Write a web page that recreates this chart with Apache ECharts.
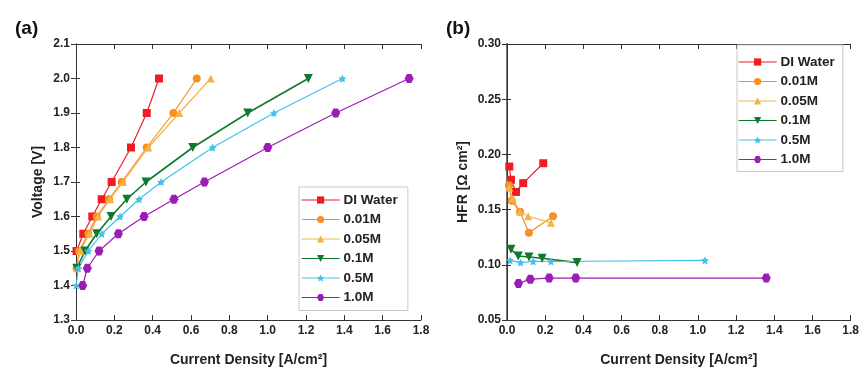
<!DOCTYPE html>
<html><head><meta charset="utf-8">
<script src="https://cdn.jsdelivr.net/npm/echarts@6/dist/echarts.min.js"></script>
<style>html,body{margin:0;padding:0;background:#fff}#c{width:862px;height:372px}</style>
</head><body><div id="c"></div>
<script>
// ---- Data ----
const seriesNames = ['DI Water','0.01M','0.05M','0.1M','0.5M','1.0M'];
const xTicks = ['0.0','0.2','0.4','0.6','0.8','1.0','1.2','1.4','1.6','1.8'];
const vTicks = ['1.3','1.4','1.5','1.6','1.7','1.8','1.9','2.0','2.1'];
const hfrTicks = ['0.05','0.10','0.15','0.20','0.25','0.30'];

// (a) polarisation curves: current density [A/cm2] and voltage [V]
const diWaterJ = [0.003,0.038,0.085,0.134,0.186,0.287,0.369,0.433];
const diWaterV = [1.50,1.55,1.60,1.65,1.70,1.80,1.90,2.00];
const m001J = [0.003,0.016,0.064,0.108,0.172,0.238,0.369,0.508,0.630];
const m001V = [1.45,1.50,1.55,1.60,1.65,1.70,1.80,1.90,2.00];
const m005J = [0.004,0.022,0.070,0.115,0.178,0.245,0.377,0.539,0.703];
const m005V = [1.45,1.50,1.55,1.60,1.65,1.70,1.80,1.90,2.00];
const m01J = [0.004,0.047,0.108,0.183,0.265,0.365,0.609,0.896,1.212];
const m01V = [1.45,1.50,1.55,1.60,1.65,1.70,1.80,1.90,2.00];
const m05J = [0.001,0.012,0.064,0.134,0.230,0.329,0.444,0.713,1.033,1.390];
const m05V = [1.40,1.45,1.50,1.55,1.60,1.65,1.70,1.80,1.90,2.00];
const m10J = [0.035,0.059,0.120,0.221,0.355,0.511,0.670,1.000,1.355,1.738];
const m10V = [1.40,1.45,1.50,1.55,1.60,1.65,1.70,1.80,1.90,2.00];

// (b) HFR vs current density
const diWaterHJ = [0.012,0.021,0.047,0.085,0.190];
const diWaterH  = [0.189,0.177,0.166,0.174,0.192];
const m001HJ = [0.010,0.025,0.068,0.115,0.241];
const m001H  = [0.172,0.158,0.148,0.129,0.144];
const m005HJ = [0.012,0.030,0.068,0.111,0.230];
const m005H  = [0.170,0.160,0.148,0.144,0.138];
const m01HJ = [0.021,0.059,0.115,0.184,0.367];
const m01H  = [0.114,0.108,0.107,0.106,0.102];
const m05HJ = [0.016,0.071,0.137,0.230,1.037];
const m05H  = [0.104,0.102,0.103,0.103,0.104];
const m10HJ = [0.060,0.122,0.221,0.360,1.358];
const m10H  = [0.083,0.087,0.088,0.088,0.088];

// ---- Styles ----
const colors = ['#ee1c25','#f7901e','#f2b448','#0d7a2e','#45c0ec','#9c1db5'];
const starPath = 'path://M0,-10 L2.9,-4 9.5,-3.1 4.8,1.5 5.9,8.1 0,5 -5.9,8.1 -4.8,1.5 -9.5,-3.1 -2.9,-4 Z';
const hexPath = 'path://M5,0 L2.5,4.33 -2.5,4.33 -5,0 -2.5,-4.33 2.5,-4.33 Z';
const symbols = ['rect','circle','triangle','triangle',starPath,hexPath];
const rotates = [0,0,0,180,0,0];
const sizes = [8,8,8,9,8,9];

const zip = (a,b) => a.map((v,i)=>[v,b[i]]);
const polData = [zip(diWaterJ,diWaterV),zip(m001J,m001V),zip(m005J,m005V),zip(m01J,m01V),zip(m05J,m05V),zip(m10J,m10V)];
const hfrData = [zip(diWaterHJ,diWaterH),zip(m001HJ,m001H),zip(m005HJ,m005H),zip(m01HJ,m01H),zip(m05HJ,m05H),zip(m10HJ,m10H)];

const FONT = '"Liberation Sans", Arial, sans-serif';
const labelStyle = {fontFamily:FONT,fontWeight:'bold',fontSize:12,color:'#222'};
const nameStyle = {fontFamily:FONT,fontWeight:'bold',fontSize:14,color:'#222'};

function mkSeries(data, gi) {
  return data.map((d,i)=>({
    name: seriesNames[i], type:'line', xAxisIndex: gi*2, yAxisIndex: gi*2,
    data: d, symbol: symbols[i], symbolRotate: rotates[i], symbolSize: sizes[i],
    showAllSymbol: true, animation:false,
    lineStyle:{color:colors[i], width: i===3?1.6:1.2},
    itemStyle:{color:colors[i], borderWidth:0}
  }));
}

function xAxes(gi) {
  const base = {type:'value', gridIndex:gi, min:0, max:1.8, interval:0.2,
    splitLine:{show:false}, axisTick:{inside:true,length:5,lineStyle:{color:'#333'}}};
  return [
    Object.assign({}, base, {position:'bottom',
      axisLine:{lineStyle:{color:'#333',width:1}},
      axisLabel:Object.assign({margin:5, formatter:v=>xTicks[Math.round(v/0.2)]}, labelStyle),
      name:'Current Density [A/cm²]', nameLocation:'middle', nameGap:33, nameTextStyle:nameStyle}),
    Object.assign({}, base, {position:'top', axisLine:{lineStyle:{color:'#333',width:1}}, axisLabel:{show:false}})
  ];
}

const legendCommon = {
  orient:'vertical', itemWidth:38, itemHeight:9, itemGap:5.5,
  lineStyle:{width:1.2},
  textStyle:{fontFamily:FONT,fontWeight:'bold',fontSize:13.5,lineHeight:14,color:'#222',padding:[0,0,0,-1]},
  borderColor:'#c8c8c8', borderWidth:1, backgroundColor:'#fff',
  data: seriesNames
};

const option = {
  animation:false,
  title:[
    {text:'(a)', left:10, top:14, textStyle:{fontFamily:FONT,fontWeight:'bold',fontSize:19,color:'#111'}},
    {text:'(b)', left:441, top:14, textStyle:{fontFamily:FONT,fontWeight:'bold',fontSize:19,color:'#111'}}
  ],
  grid:[
    {left:76, top:44, width:345, height:278, containLabel:false},
    {left:507, top:44, width:345, height:277, containLabel:false}
  ],
  xAxis:[...xAxes(0), ...xAxes(1)],
  yAxis:[
    {type:'value', gridIndex:0, min:1.3, max:2.1, interval:0.1, position:'left',
      splitLine:{show:false}, axisLine:{show:true,lineStyle:{color:'#333'}},
      axisTick:{show:true,inside:true,length:4,lineStyle:{color:'#333'}},
      axisLabel:Object.assign({margin:6, formatter:v=>vTicks[Math.round((v-1.3)/0.1)]}, labelStyle),
      name:'Voltage [V]', nameLocation:'middle', nameGap:31, nameTextStyle:nameStyle},
    {type:'value', gridIndex:0, min:1.3, max:2.1, interval:0.1, position:'right',
      splitLine:{show:false}, axisLine:{show:true,lineStyle:{color:'#333'}},
      axisTick:{show:true,inside:true,length:5,lineStyle:{color:'#333'}}, axisLabel:{show:false}},
    {type:'value', gridIndex:1, min:0.05, max:0.30, interval:0.05, position:'left',
      splitLine:{show:false}, axisLine:{show:true,lineStyle:{color:'#777',width:2}},
      axisTick:{show:true,inside:true,length:4,lineStyle:{color:'#333'}},
      axisLabel:Object.assign({margin:6, formatter:v=>hfrTicks[Math.round((v-0.05)/0.05)]}, labelStyle),
      name:'HFR [Ω cm²]', nameLocation:'middle', nameGap:37, nameTextStyle:nameStyle},
    {type:'value', gridIndex:1, min:0.05, max:0.30, interval:0.05, position:'right',
      splitLine:{show:false}, axisLine:{show:true,lineStyle:{color:'#333'}},
      axisTick:{show:true,inside:true,length:5,lineStyle:{color:'#333'}}, axisLabel:{show:false}}
  ],
  legend:[
    Object.assign({}, legendCommon, {left:299, top:187, padding:[6,10,6,2]}),
    Object.assign({}, legendCommon, {left:737, top:45, padding:[10,8,5,1]})
  ],
  series:[...mkSeries(polData,0), ...mkSeries(hfrData,1)]
};

const chart = echarts.init(document.getElementById('c'), null, {renderer:'canvas'});
chart.setOption(option);
</script></body></html>
